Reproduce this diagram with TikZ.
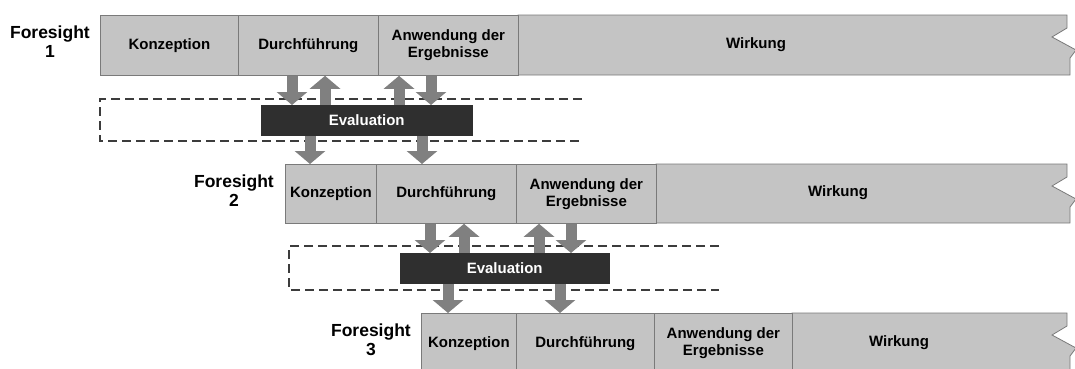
\documentclass[tikz,border=0pt]{standalone}
\usepackage{fontspec}
\setmainfont{Liberation Sans}
\usetikzlibrary{arrows.meta}
\definecolor{barfill}{HTML}{C4C4C4}
\definecolor{barline}{HTML}{7A7A7A}
\definecolor{arrowgray}{HTML}{808080}
\definecolor{evalfill}{HTML}{2F2F2F}
\definecolor{dashcol}{HTML}{3C3C3C}
\begin{document}
\begin{tikzpicture}[x=1pt,y=-1pt,
  seg/.style={draw=barline, fill=barfill, line width=0.8pt},
  segbox/.style={seg, minimum height=60pt, inner sep=0pt, anchor=north west,
     font=\fontsize{15}{17}\selectfont\bfseries, align=center},
  segtext/.style={font=\fontsize{15}{17}\selectfont\bfseries, align=center},
  fslabel/.style={font=\fontsize{17.5}{19}\selectfont\bfseries, align=center, anchor=east, inner sep=0pt},
  evalbox/.style={draw=evalfill, fill=evalfill, text=white, font=\fontsize{15}{17}\selectfont\bfseries,
     minimum height=30pt, inner sep=0pt, anchor=north west},
  garrow/.style={draw=arrowgray, line width=11pt, -{Triangle[width=30pt,length=13pt]}},
  dashbox/.style={draw=dashcol, line width=1.3pt, dash pattern=on 9pt off 5pt}]
\useasboundingbox (0,0) rectangle (1075,368);
\clip (0,0) rectangle (1075,368);

% ---------- Row 1 ----------
\draw[seg] (518,15) -- (1067,15) -- (1067,28) -- (1052,37) -- (1076,50) -- (1070,58) -- (1070,75) -- (518,75) -- cycle;
\node[segbox, minimum width=138pt] (k1) at (100,15) {Konzeption};
\node[segbox, minimum width=140pt] (d1) at (238,15) {Durchführung};
\node[segbox, minimum width=140pt] (a1) at (378,15) {Anwendung der\\Ergebnisse};
\node[segtext] (w1) at (756,45) {Wirkung};
\node[fslabel] (f1) at (90,42) {Foresight\\1};

% ---------- Evaluation 1 ----------
\draw[dashbox] (582,99) -- (100,99) -- (100,141) -- (582,141);
\node[evalbox, minimum width=211pt] (e1) at (261,105) {Evaluation};
\coordinate (x11) at (292,0);
\coordinate (x12) at (325,0);
\coordinate (x13) at (399,0);
\coordinate (x14) at (431,0);
\coordinate (x15) at (310,0);
\coordinate (x16) at (422,0);

% ---------- Row 2 ----------
\draw[seg] (656,164) -- (1067,164) -- (1067,177) -- (1052,186) -- (1076,199) -- (1070,207) -- (1070,223) -- (656,223) -- cycle;
\node[segbox, minimum width=91pt, minimum height=59pt] (k2) at (285,164) {Konzeption};
\node[segbox, minimum width=140pt, minimum height=59pt] (d2) at (376,164) {Durchführung};
\node[segbox, minimum width=140pt, minimum height=59pt] (a2) at (516,164) {Anwendung der\\Ergebnisse};
\node[segtext] (w2) at (838,193) {Wirkung};
\node[fslabel] (f2) at (274,191) {Foresight\\2};

% ---------- Evaluation 2 ----------
\draw[dashbox] (719,246) -- (289,246) -- (289,290) -- (719,290);
\node[evalbox, minimum width=209pt] (e2) at (400,253) {Evaluation};
\coordinate (x21) at (430,0);
\coordinate (x22) at (464,0);
\coordinate (x23) at (539,0);
\coordinate (x24) at (571,0);
\coordinate (x25) at (448,0);
\coordinate (x26) at (560,0);

% ---------- Row 3 ----------
\draw[seg] (792,313) -- (1067,313) -- (1067,326) -- (1052,335) -- (1076,348) -- (1070,356) -- (1070,373) -- (792,373) -- cycle;
\node[segbox, minimum width=95pt] (k3) at (421,313) {Konzeption};
\node[segbox, minimum width=138pt] (d3) at (516,313) {Durchführung};
\node[segbox, minimum width=138pt] (a3) at (654,313) {Anwendung der\\Ergebnisse};
\node[segtext] (w3) at (899,343) {Wirkung};
\node[fslabel] (f3) at (411,340) {Foresight\\3};

% ---------- Arrows ----------
\draw[garrow] (d1.south -| x11) -- (e1.north -| x11);
\draw[garrow] (e1.north -| x12) -- (d1.south -| x12);
\draw[garrow] (e1.north -| x13) -- (a1.south -| x13);
\draw[garrow] (a1.south -| x14) -- (e1.north -| x14);
\draw[garrow] (e1.south -| x15) -- (k2.north -| x15);
\draw[garrow] (e1.south -| x16) -- (d2.north -| x16);

\draw[garrow] (d2.south -| x21) -- (e2.north -| x21);
\draw[garrow] (e2.north -| x22) -- (d2.south -| x22);
\draw[garrow] (e2.north -| x23) -- (a2.south -| x23);
\draw[garrow] (a2.south -| x24) -- (e2.north -| x24);
\draw[garrow] (e2.south -| x25) -- (k3.north -| x25);
\draw[garrow] (e2.south -| x26) -- (d3.north -| x26);

% redraw evaluation boxes on top
\node[evalbox, minimum width=211pt] at (261,105) {Evaluation};
\node[evalbox, minimum width=209pt] at (400,253) {Evaluation};
\end{tikzpicture}
\end{document}
